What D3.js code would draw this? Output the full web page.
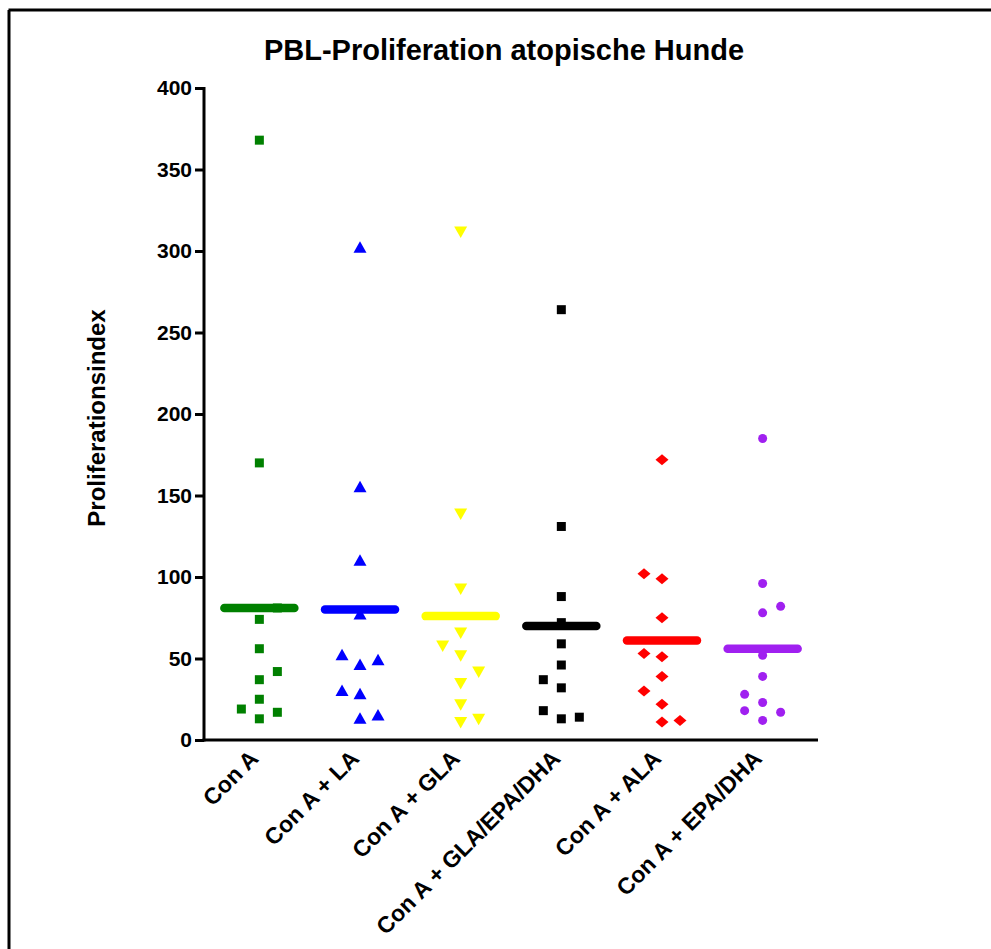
<!DOCTYPE html>
<html>
<head>
<meta charset="utf-8">
<script src="https://cdn.jsdelivr.net/npm/d3@7/dist/d3.min.js"></script>
<style>
  html, body { margin: 0; padding: 0; background: #ffffff; }
  svg { display: block; }
  text { font-family: "Liberation Sans", Arial, sans-serif; }
</style>
</head>
<body>
<svg id="chart" width="991" height="949"></svg>
<script>
// ---- data ----
const categories = ["Con A", "Con A + LA", "Con A + GLA", "Con A + GLA/EPA/DHA", "Con A + ALA", "Con A + EPA/DHA"];
const conA          = [368, 170, 81, 74, 56, 42, 37, 25, 19, 17, 13];
const conA_LA       = [302, 155, 110, 77, 52, 49, 46, 30, 28, 15, 13];
const conA_GLA      = [312, 139, 93, 66, 58, 52, 42, 35, 22, 13, 11];
const conA_GLAEPADHA= [264, 131, 88, 72, 59, 46, 37, 32, 18, 14, 13];
const conA_ALA      = [172, 102, 99, 75, 53, 51, 39, 30, 22, 12, 11];
const conA_EPADHA   = [185, 96, 82, 78, 52, 39, 28, 23, 18, 17, 12];
const means = [81, 80, 76, 70, 61, 56];
const yTicks = [0, 50, 100, 150, 200, 250, 300, 350, 400];
// horizontal scatter slot of each point (-1 left, 0 centre, 1 right)
const slots = [
  [0, 0, 1, 0, 0, 1, 0, 0, -1, 1, 0],
  [0, 0, 0, 0, -1, 1, 0, -1, 0, 1, 0],
  [0, 0, 0, 0, -1, 0, 1, 0, 0, 1, 0],
  [0, 0, 0, 0, 0, 0, -1, 0, -1, 1, 0],
  [0, -1, 0, 0, -1, 0, 0, -1, 0, 1, 0],
  [0, 0, 1, 0, 0, 0, -1, 0, -1, 1, 0]
];
const series = [conA, conA_LA, conA_GLA, conA_GLAEPADHA, conA_ALA, conA_EPADHA];
const colors = ["#008000", "#0000ff", "#ffff00", "#000000", "#ff0000", "#a020f0"];
const shapes = ["square", "triangle", "triangleDown", "square", "diamond", "circle"];

// ---- layout ----
const svg = d3.select("#chart");
const x0 = 204, x1 = 818, yTop = 88, yBot = 740;
const x = d3.scalePoint().domain(categories).range([x0, x1]).padding(0.55);
const y = d3.scaleLinear().domain([0, 400]).range([yBot, yTop]);
const jit = 18;

// frame (top + left lines)
svg.append("line").attr("x1", 8.5).attr("y1", 10).attr("x2", 991).attr("y2", 10)
  .attr("stroke", "#000").attr("stroke-width", 3);
svg.append("line").attr("x1", 9).attr("y1", 10).attr("x2", 9).attr("y2", 949)
  .attr("stroke", "#000").attr("stroke-width", 3);

// title
svg.append("text").attr("x", 504).attr("y", 60).attr("text-anchor", "middle")
  .attr("font-size", 29).attr("font-weight", "bold").text("PBL-Proliferation atopische Hunde");

// y axis
const yAxis = d3.axisLeft(y).tickValues(yTicks).tickSize(9).tickPadding(3).tickSizeOuter(0);
const gy = svg.append("g").attr("transform", `translate(${x0},0)`).call(yAxis);
gy.select(".domain").attr("stroke", "#000").attr("stroke-width", 3).attr("d", `M0,${yTop - 1}V${yBot + 1.5}`);
gy.selectAll(".tick line").attr("stroke", "#000").attr("stroke-width", 3);
gy.selectAll(".tick text").attr("font-size", 21).attr("font-weight", "bold").attr("fill", "#000")
  .attr("font-family", "Liberation Sans, Arial, sans-serif");

// x axis
const xAxis = d3.axisBottom(x).tickSize(0).tickPadding(0).tickSizeOuter(0);
const gx = svg.append("g").attr("transform", `translate(0,${yBot})`).call(xAxis);
gx.select(".domain").attr("stroke", "#000").attr("stroke-width", 3).attr("d", `M${x0 - 1.5},0H${x1}`);
gx.selectAll(".tick text")
  .attr("font-size", 23).attr("font-weight", "bold").attr("fill", "#000")
  .attr("font-family", "Liberation Sans, Arial, sans-serif")
  .attr("text-anchor", "end")
  .attr("dy", 0)
  .attr("transform", "translate(0,20) rotate(-45)");

// y label
svg.append("text").attr("transform", "translate(105,418) rotate(-90)")
  .attr("text-anchor", "middle").attr("font-size", 24).attr("font-weight", "bold")
  .text("Proliferationsindex");

// markers
function markerPath(shape) {
  switch (shape) {
    case "square": return "M-4.5,-4.5H4.5V4.5H-4.5Z";
    case "triangle": return "M0,-6.5L6.5,5L-6.5,5Z";
    case "triangleDown": return "M0,6.5L6.5,-5L-6.5,-5Z";
    case "diamond": return "M0,-5.5L6.5,0L0,5.5L-6.5,0Z";
    case "circle": return d3.symbol(d3.symbolCircle, Math.PI * 4.5 * 4.5)();
  }
}

series.forEach((vals, i) => {
  const cx = x(categories[i]);
  const g = svg.append("g");
  g.selectAll("path").data(vals).join("path")
    .attr("d", markerPath(shapes[i]))
    .attr("transform", (d, j) => `translate(${cx + slots[i][j] * jit},${y(d)})`)
    .attr("fill", colors[i]);
});

// mean lines
svg.append("g").selectAll("line").data(means).join("line")
  .attr("x1", (d, i) => x(categories[i]) - 35)
  .attr("x2", (d, i) => x(categories[i]) + 35)
  .attr("y1", d => y(d)).attr("y2", d => y(d))
  .attr("stroke", (d, i) => colors[i])
  .attr("stroke-width", 8.5)
  .attr("stroke-linecap", "round");
</script>
</body>
</html>
